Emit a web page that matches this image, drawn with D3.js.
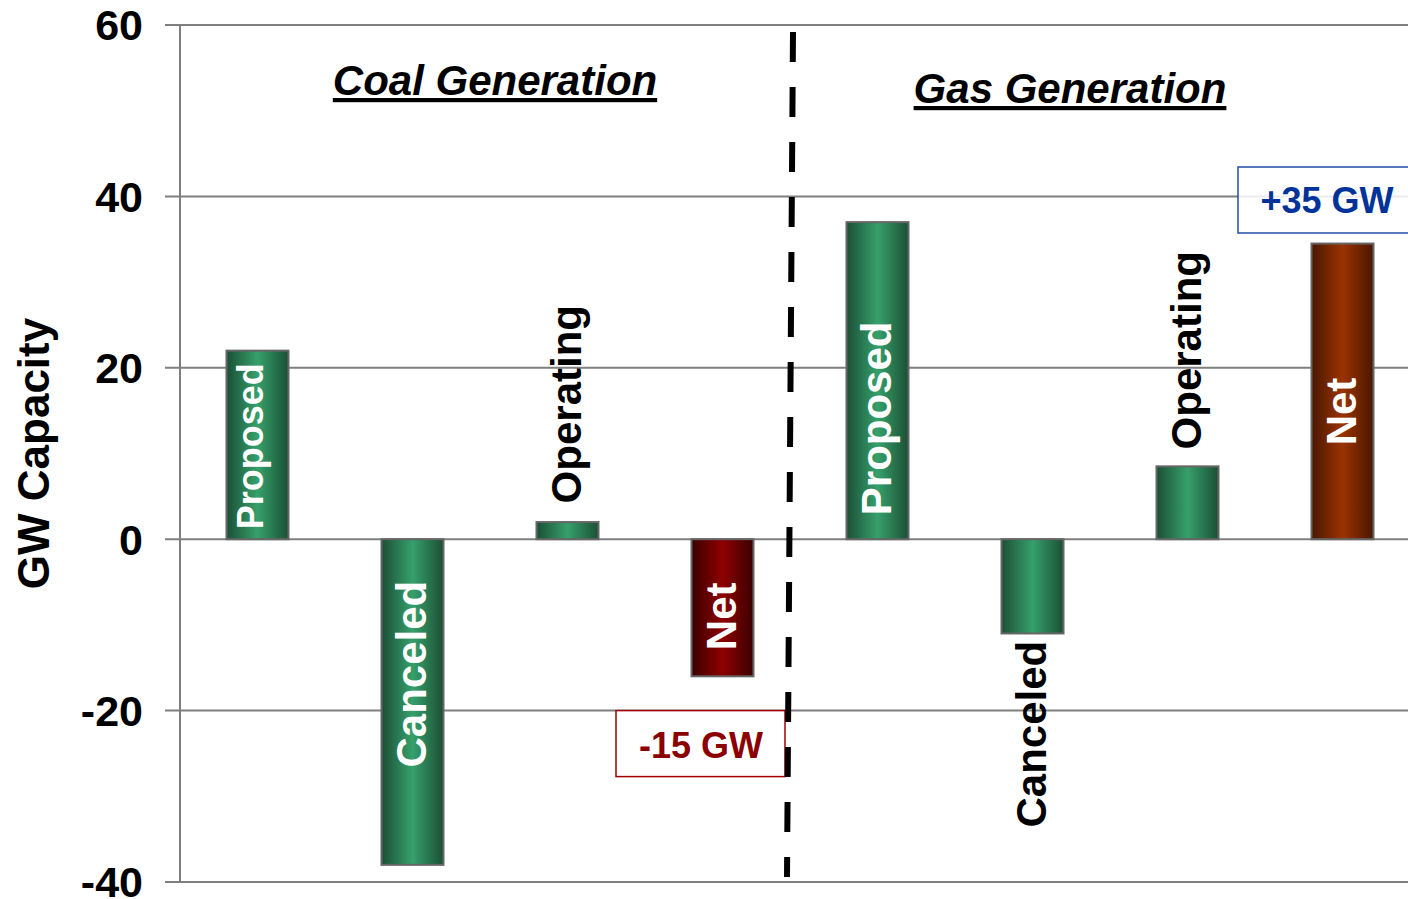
<!DOCTYPE html>
<html>
<head>
<meta charset="utf-8">
<script src="https://cdn.jsdelivr.net/npm/d3@7"></script>
<style>
  body { margin: 0; background: #fff; }
  text { font-family: "Liberation Sans", Arial, sans-serif; font-weight: bold; }
</style>
</head>
<body>
<svg id="chart"></svg>
<script>
// chart data
const barIds = ["coal-proposed", "coal-canceled", "coal-operating", "coal-net",
                "gas-proposed", "gas-canceled", "gas-operating", "gas-net"];
const barLabels = ["Proposed", "Canceled", "Operating", "Net",
                   "Proposed", "Canceled", "Operating", "Net"];
const values = [22, -38, 2, -16, 37, -11, 8.5, 34.5];
const yTicks = [-40, -20, 0, 20, 40, 60];
const groupTitles = ["Coal Generation", "Gas Generation"];
const netNotes = ["-15 GW", "+35 GW"];

// where each bar label sits (centre, in GW units) and whether it is inside the bar
const labelAt = [10.85, -15.75, 15.75, -9, 14.1, -22.75, 22.05, 14.9];
const labelInside = [true, true, false, true, true, false, false, true];
const labelSize = [36, 42, 42, 42, 42, 42, 42, 42];
const barFill = ["green", "green", "green", "red", "green", "green", "green", "brown"];

const W = 1408, H = 899;
const svg = d3.select("#chart").attr("width", W).attr("height", H);

let x = d3.scaleBand()
    .domain(barIds)
    .range([180, 1420])
    .paddingInner(0.6)
    .paddingOuter(0.3);
let y = d3.scaleLinear()
    .domain([-40, 60])
    .range([882, 25]);

// gradients for the "cylinder" look
const defs = svg.append("defs");
const grads = {
  green: ["#1b4f35", "#36a06b", "#1b4f35"],
  red:   ["#3a0000", "#8e0000", "#3a0000"],
  brown: ["#4a1700", "#9a3300", "#4a1700"]
};
Object.keys(grads).forEach(function(k) {
  let g = defs.append("linearGradient").attr("id", "g-" + k)
      .attr("x1", "0%").attr("x2", "100%").attr("y1", "0%").attr("y2", "0%");
  g.append("stop").attr("offset", "0%").attr("stop-color", grads[k][0]);
  g.append("stop").attr("offset", "50%").attr("stop-color", grads[k][1]);
  g.append("stop").attr("offset", "100%").attr("stop-color", grads[k][2]);
});

// grid lines + tick labels
svg.append("g").selectAll("line")
    .data(yTicks)
  .enter().append("line")
    .attr("x1", 165).attr("x2", W)
    .attr("y1", d => y(d)).attr("y2", d => y(d))
    .attr("stroke", "#7f7f7f").attr("stroke-width", 2);

svg.append("g").selectAll("text")
    .data(yTicks)
  .enter().append("text")
    .attr("x", 143)
    .attr("y", d => y(d))
    .attr("dy", "0.36em")
    .attr("text-anchor", "end")
    .style("font-size", "43px")
    .text(d => d);

// y axis line
svg.append("line")
    .attr("x1", 180).attr("x2", 180)
    .attr("y1", y(60)).attr("y2", y(-40))
    .attr("stroke", "#7f7f7f").attr("stroke-width", 2);

// y axis title
svg.append("text")
    .attr("transform", "translate(49," + y(10) + ") rotate(-90)")
    .attr("text-anchor", "middle")
    .style("font-size", "44px")
    .text("GW Capacity");

// group titles
svg.append("text")
    .attr("x", 495).attr("y", 95)
    .attr("text-anchor", "middle")
    .style("font-size", "42px").style("font-style", "italic")
    .style("text-decoration", "underline")
    .text(groupTitles[0]);
svg.append("text")
    .attr("x", 1070).attr("y", 103)
    .attr("text-anchor", "middle")
    .style("font-size", "42px").style("font-style", "italic")
    .style("text-decoration", "underline")
    .text(groupTitles[1]);

// bars
svg.append("g").selectAll("rect")
    .data(values)
  .enter().append("rect")
    .attr("x", (d, i) => x(barIds[i]))
    .attr("width", x.bandwidth())
    .attr("y", d => y(Math.max(0, d)))
    .attr("height", d => Math.abs(y(d) - y(0)))
    .attr("fill", (d, i) => "url(#g-" + barFill[i] + ")")
    .attr("stroke", "#666").attr("stroke-width", 2);

// bar labels (rotated)
svg.append("g").selectAll("text")
    .data(barLabels)
  .enter().append("text")
    .attr("transform", (d, i) => "translate(" + (x(barIds[i]) + x.bandwidth() / 2) + "," + y(labelAt[i]) + ") rotate(-90)")
    .attr("text-anchor", "middle")
    .attr("dy", (d, i) => labelSize[i] < 40 ? "0.15em" : "0.31em")
    .style("font-size", (d, i) => labelSize[i] + "px")
    .attr("fill", (d, i) => labelInside[i] ? "#fff" : "#000")
    .text(d => d);

// net annotation boxes
svg.append("rect")
    .attr("x", 616).attr("y", y(-20))
    .attr("width", 169).attr("height", 66)
    .attr("fill", "#fff").attr("stroke", "#a00000").attr("stroke-width", 1.5);
svg.append("text")
    .attr("x", 701).attr("y", 758)
    .attr("text-anchor", "middle")
    .style("font-size", "36px")
    .attr("fill", "#8b0000")
    .text(netNotes[0]);

svg.append("rect")
    .attr("x", 1238).attr("y", 167)
    .attr("width", 190).attr("height", 66)
    .attr("fill", "#fff").attr("fill-opacity", 0.85)
    .attr("stroke", "#1f4fa8").attr("stroke-width", 1.5);
svg.append("text")
    .attr("x", 1327).attr("y", 213)
    .attr("text-anchor", "middle")
    .style("font-size", "36px")
    .attr("fill", "#003399")
    .text(netNotes[1]);

// coal / gas divider
svg.append("line")
    .attr("x1", 793).attr("y1", 32)
    .attr("x2", 787).attr("y2", 877)
    .attr("stroke", "#000").attr("stroke-width", 6)
    .attr("stroke-dasharray", "30,25");
</script>
</body>
</html>
